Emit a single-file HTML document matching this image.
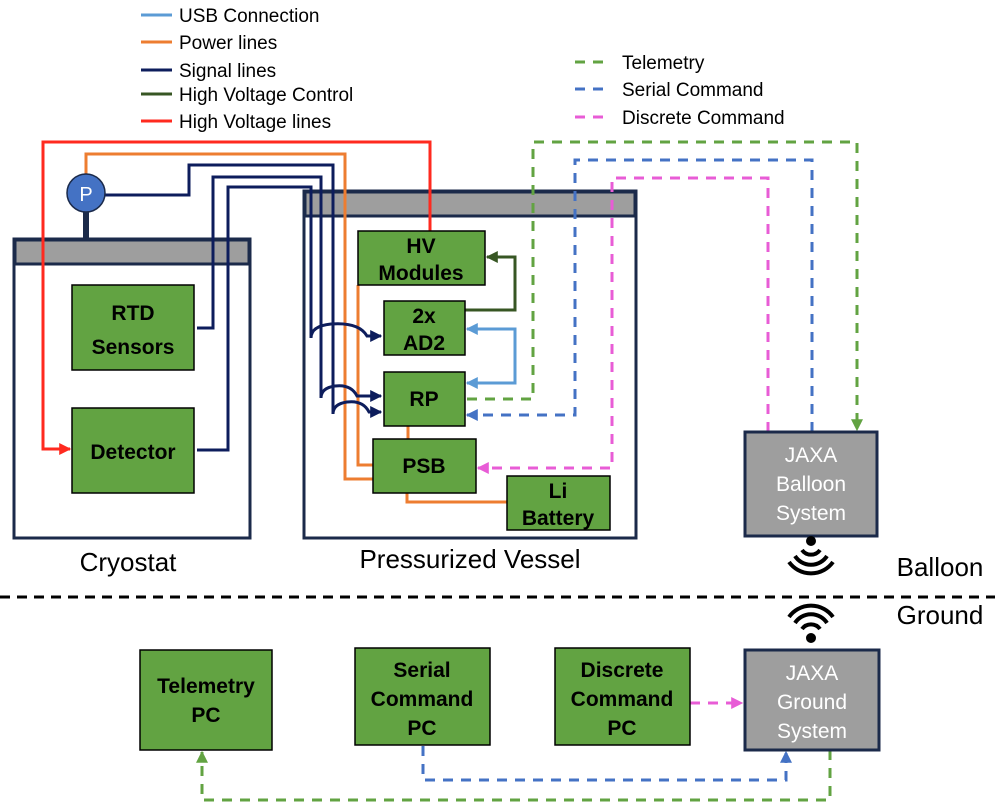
<!DOCTYPE html>
<html><head><meta charset="utf-8"><style>
html,body{margin:0;padding:0;background:#fff}
svg{display:block}
text{font-family:"Liberation Sans",sans-serif}
.b{font-weight:bold;font-size:21px;fill:#000;text-anchor:middle}
.w{font-size:21px;fill:#fff;text-anchor:middle}
.l{font-size:19px;fill:#000}
.g{fill:#62a342;stroke:#000;stroke-width:1.5}
</style></head><body>
<svg width="995" height="808" viewBox="0 0 995 808" xmlns="http://www.w3.org/2000/svg">
<defs>
<marker id="a" viewBox="0 0 10 10" refX="9" refY="5" markerWidth="4" markerHeight="4" orient="auto-start-reverse"><path d="M0 0L10 5L0 10z" fill="context-stroke"/></marker>
</defs>
<g stroke-width="3">
<line x1="141" y1="15" x2="172" y2="15" stroke="#5b9bd5"/>
<line x1="141" y1="42" x2="172" y2="42" stroke="#ed7d31"/>
<line x1="141" y1="70" x2="172" y2="70" stroke="#0d1d5c"/>
<line x1="141" y1="94" x2="172" y2="94" stroke="#375623"/>
<line x1="141" y1="121" x2="172" y2="121" stroke="#ff2a1f"/>
<line x1="575" y1="62" x2="608" y2="62" stroke="#62a342" stroke-dasharray="10,8"/>
<line x1="575" y1="89" x2="608" y2="89" stroke="#4472c4" stroke-dasharray="10,8"/>
<line x1="575" y1="117" x2="608" y2="117" stroke="#e85cd6" stroke-dasharray="10,8"/>
</g>
<text class="l" x="179" y="22">USB Connection</text>
<text class="l" x="179" y="49">Power lines</text>
<text class="l" x="179" y="77">Signal lines</text>
<text class="l" x="179" y="101">High Voltage Control</text>
<text class="l" x="179" y="128">High Voltage lines</text>
<text class="l" x="622" y="69">Telemetry</text>
<text class="l" x="622" y="96">Serial Command</text>
<text class="l" x="622" y="124">Discrete Command</text>

<rect x="14" y="239" width="236" height="299" fill="#fff" stroke="#1b2a4a" stroke-width="3"/>
<rect x="15" y="240" width="234" height="24" fill="#9e9e9e" stroke="#1b2a4a" stroke-width="3"/>
<rect x="304" y="191" width="332" height="347" fill="#fff" stroke="#1b2a4a" stroke-width="3"/>
<rect x="305" y="192" width="330" height="24" fill="#9e9e9e" stroke="#1b2a4a" stroke-width="3"/>
<line x1="86" y1="210" x2="86" y2="240" stroke="#1b2a4a" stroke-width="6"/>

<g fill="none" stroke="#ed7d31" stroke-width="3">
<path d="M86 175V154H345V479H373"/>
<path d="M358 285V465H373"/>
<path d="M408 426V439"/>
<path d="M407 493V502H507"/>
</g>
<path d="M430 231V142H43V449H70" fill="none" stroke="#ff2a1f" stroke-width="3" marker-end="url(#a)"/>
<g fill="none" stroke="#0d1d5c" stroke-width="3">
<path d="M105 195H189V165H333V414 q0 -10 14 -12 q16 -2 22 10 h12" marker-end="url(#a)"/>
<path d="M197 328H213V177H321V398 q0 -10 14 -12 q16 -2 22 10 h24" marker-end="url(#a)"/>
<path d="M197 450H228V187H311V338 q0 -12 20 -14 q28 -2 36 12 h14" marker-end="url(#a)"/>
</g>
<circle cx="86" cy="193" r="19" fill="#4472c4" stroke="#1b2a4a" stroke-width="1.5"/>
<text x="86" y="201" fill="#fff" font-size="20" text-anchor="middle">P</text>

<path d="M465 310H515V257H487" fill="none" stroke="#375623" stroke-width="3" marker-end="url(#a)"/>
<path d="M467 329H515V383H467" fill="none" stroke="#5b9bd5" stroke-width="3" marker-start="url(#a)" marker-end="url(#a)"/>

<g fill="none" stroke-width="3" stroke-dasharray="10,8">
<path d="M467 399H533V142H857V430" stroke="#62a342" marker-end="url(#a)"/>
<path d="M812 432V160H575V415H467" stroke="#4472c4" marker-end="url(#a)"/>
<path d="M768 432V178H612V468H478" stroke="#e85cd6" marker-end="url(#a)"/>
<path d="M690 703H742" stroke="#e85cd6" marker-end="url(#a)"/>
<path d="M423 746V780H786V752" stroke="#4472c4" marker-end="url(#a)"/>
<path d="M830 750V800H202V752" stroke="#62a342" marker-end="url(#a)"/>
</g>

<rect class="g" x="72" y="285" width="122" height="85"/>
<text class="b" x="133" y="320" font-size="23">RTD</text><text class="b" x="133" y="354" font-size="23">Sensors</text>
<rect class="g" x="72" y="408" width="122" height="85"/>
<text class="b" x="133" y="459" font-size="23">Detector</text>
<rect class="g" x="358" y="231" width="127" height="54"/>
<text class="b" x="421" y="253">HV</text><text class="b" x="421" y="280">Modules</text>
<rect class="g" x="384" y="301" width="81" height="54"/>
<text class="b" x="424" y="323">2x</text><text class="b" x="424" y="350">AD2</text>
<rect class="g" x="384" y="372" width="81" height="54"/>
<text class="b" x="424" y="406">RP</text>
<rect class="g" x="373" y="439" width="103" height="54"/>
<text class="b" x="424" y="473">PSB</text>
<rect class="g" x="507" y="476" width="103" height="54"/>
<text class="b" x="558" y="498">Li</text><text class="b" x="558" y="525">Battery</text>
<rect x="745" y="432" width="132" height="104" fill="#9e9e9e" stroke="#1b2a4a" stroke-width="3"/>
<text class="w" x="811" y="462">JAXA</text><text class="w" x="811" y="491">Balloon</text><text class="w" x="811" y="520">System</text>

<text x="128" y="571" font-size="26" text-anchor="middle">Cryostat</text>
<text x="470" y="568" font-size="26" text-anchor="middle">Pressurized Vessel</text>
<text x="940" y="576" font-size="26" text-anchor="middle">Balloon</text>
<text x="940" y="624" font-size="26" text-anchor="middle">Ground</text>
<line x1="0" y1="597" x2="995" y2="597" stroke="#000" stroke-width="3" stroke-dasharray="10,7"/>

<g fill="none" stroke="#000" stroke-width="4">
<circle cx="811" cy="541" r="3" fill="#000"/>
<path d="M802 550 a11 11 0 0 0 18 0"/>
<path d="M795 556 a19 19 0 0 0 32 0"/>
<path d="M789 562 a27 27 0 0 0 44 0"/>
<circle cx="811" cy="638" r="3" fill="#000"/>
<path d="M802 629 a11 11 0 0 1 18 0"/>
<path d="M795 623 a19 19 0 0 1 32 0"/>
<path d="M789 617 a27 27 0 0 1 44 0"/>
</g>

<rect class="g" x="140" y="650" width="132" height="100" stroke="#1b2a4a" stroke-width="3"/>
<text class="b" x="206" y="693">Telemetry</text><text class="b" x="206" y="722">PC</text>
<rect class="g" x="355" y="648" width="135" height="97" stroke="#1b2a4a" stroke-width="3"/>
<text class="b" x="422" y="677">Serial</text><text class="b" x="422" y="706">Command</text><text class="b" x="422" y="735">PC</text>
<rect class="g" x="555" y="648" width="135" height="97" stroke="#1b2a4a" stroke-width="3"/>
<text class="b" x="622" y="677">Discrete</text><text class="b" x="622" y="706">Command</text><text class="b" x="622" y="735">PC</text>
<rect x="745" y="650" width="134" height="100" fill="#9e9e9e" stroke="#1b2a4a" stroke-width="3"/>
<text class="w" x="812" y="680">JAXA</text><text class="w" x="812" y="709">Ground</text><text class="w" x="812" y="738">System</text>
</svg>
</body></html>
